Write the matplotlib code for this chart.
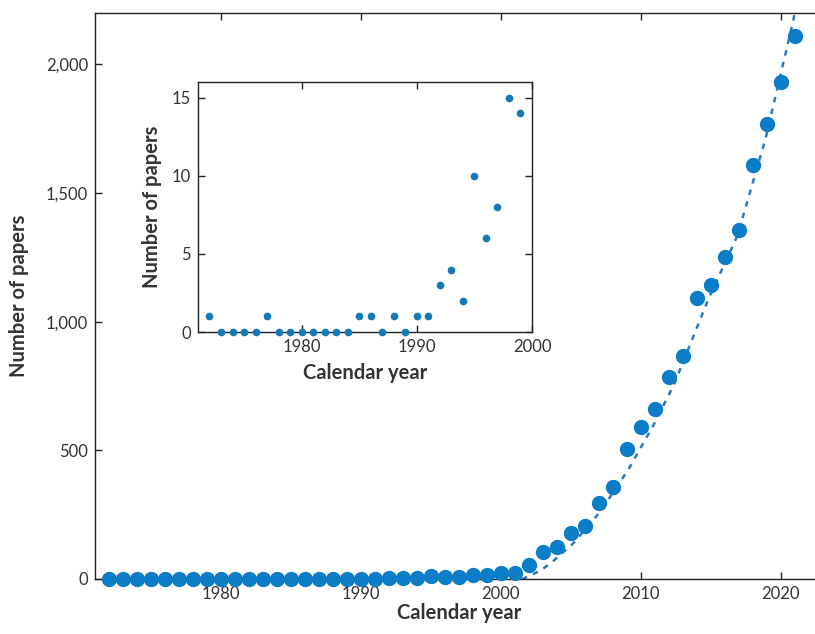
import matplotlib
matplotlib.use("Agg")
import matplotlib.pyplot as plt
from matplotlib.ticker import FuncFormatter

plt.rcParams['font.family'] = ['Lato', 'DejaVu Sans']

years = list(range(1972, 2022))
papers = [1, 0, 0, 0, 0, 1, 0, 0, 0, 0, 0, 0, 0, 1, 1, 0, 1, 0, 1, 1,
          3, 4, 2, 10, 6, 8, 15, 14,
          23, 25, 55, 105, 124, 179, 206, 295, 357, 505, 590, 660,
          787, 866, 1091, 1142, 1250, 1355, 1608, 1767, 1930, 2109]

fit_years = [2001.5, 2001.9, 2002.9, 2003.7, 2005.2, 2007.1, 2009.1, 2010.9,
             2012.4, 2014.8, 2016.9, 2018.9, 2020.8, 2021.4]
fit_values = [0, 8, 35, 68, 140, 262, 425, 598, 760, 1085, 1335, 1710, 2150, 2300]

inset_years = years[:28]
inset_papers = papers[:28]

main_xticks = [1980, 1990, 2000, 2010, 2020]
main_yticks = [0, 500, 1000, 1500, 2000]
inset_xticks = [1980, 1990, 2000]
inset_yticks = [0, 5, 10, 15]

blue = '#0a7cc8'
inset_blue = '#1479b4'
dash_blue = '#2f78b8'
text_col = '#333333'
spine_col = '#222222'

fig = plt.figure(figsize=(8.15, 6.34), dpi=100)
ax = fig.add_axes([0.1166, 0.0868, 0.893, 0.8927])

ax.plot(fit_years, fit_values, linestyle=(0, (2.2, 2.6)), color=dash_blue, lw=1.8, zorder=2)
ax.plot(years, papers, 'o', color=blue, ms=10, mec=blue, clip_on=False, zorder=3)

ax.set_xlim(1971, 2023)
ax.set_ylim(0, 2200)
ax.set_xticks(main_xticks)
ax.set_yticks(main_yticks)
ax.yaxis.set_major_formatter(FuncFormatter(lambda v, p: f"{int(v):,}"))
ax.tick_params(direction='in', top=True, right=True, length=5, width=1,
               labelsize=12, labelcolor=text_col, color=spine_col, pad=5)
for s in ax.spines.values():
    s.set_color(spine_col)
    s.set_linewidth(1)
ax.set_xlabel('Calendar year', fontsize=14.5, fontweight='bold', color=text_col, labelpad=1)
ax.set_ylabel('Number of papers', fontsize=14.5, fontweight='bold', color=text_col, labelpad=12)

ins = fig.add_axes([0.2429, 0.4763, 0.4098, 0.3943])
ins.plot(inset_years, inset_papers, 'o', color=inset_blue, ms=4.5, clip_on=False, zorder=3)
ins.set_xlim(1971, 2000)
ins.set_ylim(0, 16)
ins.set_xticks(inset_xticks)
ins.set_yticks(inset_yticks)
ins.tick_params(direction='in', top=True, right=True, length=5, width=1,
                labelsize=12, labelcolor=text_col, color=spine_col, pad=5)
for s in ins.spines.values():
    s.set_color(spine_col)
    s.set_linewidth(1)
ins.set_xlabel('Calendar year', fontsize=14.5, fontweight='bold', color=text_col, labelpad=6)
ins.set_ylabel('Number of papers', fontsize=14.5, fontweight='bold', color=text_col, labelpad=7)

fig.savefig('out.png', dpi=100)
